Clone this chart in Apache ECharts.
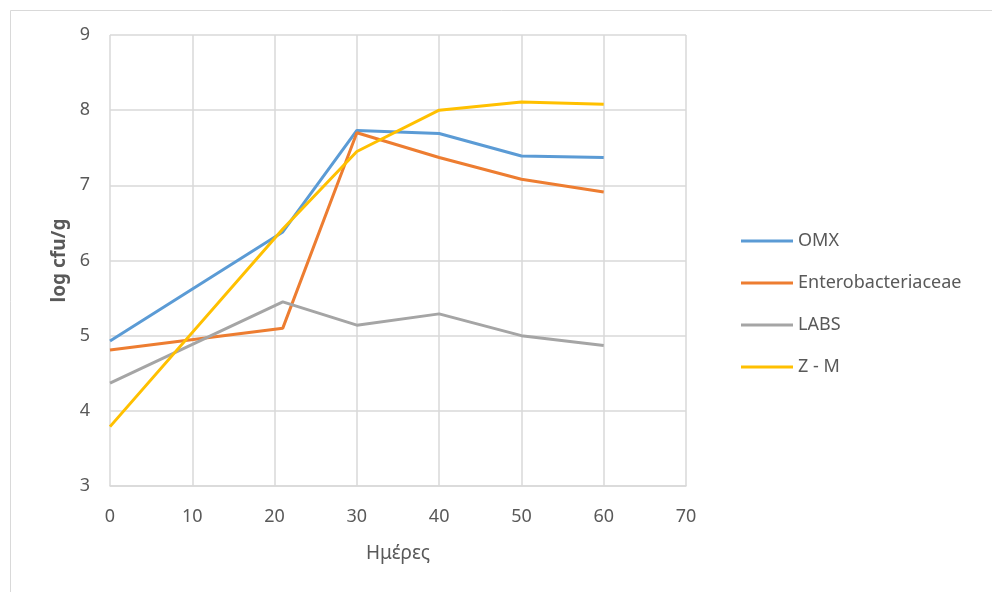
<!DOCTYPE html>
<html>
<head>
<meta charset="utf-8">
<script src="https://cdn.jsdelivr.net/npm/echarts@6/dist/echarts.min.js"></script>
<style>html,body{margin:0;padding:0;background:#fff;}#c{width:992px;height:592px;}</style>
</head>
<body>
<div id="c"></div>
<script>
const days = [0, 21, 30, 40, 50, 60];
const omx = [4.93, 6.38, 7.73, 7.69, 7.39, 7.37];
const entero = [4.81, 5.10, 7.70, 7.37, 7.08, 6.91];
const labs = [4.37, 5.45, 5.14, 5.29, 5.00, 4.87];
const zm = [3.79, 6.42, 7.45, 8.00, 8.11, 8.08];
const seriesNames = ['OMX', 'Enterobacteriaceae', 'LABS', 'Z - M'];
const seriesColors = ['#5B9BD5', '#ED7D31', '#A5A5A5', '#FFC000'];
const seriesValues = [omx, entero, labs, zm];

const chart = echarts.init(document.getElementById('c'));
const font = 'Noto Sans';
chart.setOption({
  animation: false,
  backgroundColor: '#fff',
  graphic: [{
    type: 'rect', left: 8, top: 8, shape: { width: 1000, height: 600 },
    style: { fill: 'none', stroke: '#d9d9d9', lineWidth: 1 }, silent: true
  }],
  grid: { left: 110, right: 306, top: 35, bottom: 106 },
  legend: {
    orient: 'vertical', left: 736, top: 227, itemWidth: 52, itemHeight: 3, itemGap: 24,
    icon: 'rect',
    textStyle: { fontFamily: font, fontSize: 18, color: '#595959', padding: [0, 0, 0, 0] },
    data: seriesNames
  },
  xAxis: {
    type: 'value', min: 0, max: 70, interval: 10,
    name: 'Ημέρες', nameLocation: 'middle', nameGap: 58,
    nameTextStyle: { fontFamily: font, fontSize: 19, color: '#595959' },
    axisLine: { show: true, lineStyle: { color: '#d9d9d9', width: 1.5 } },
    axisTick: { show: false },
    axisLabel: { fontFamily: font, fontSize: 18, color: '#595959', margin: 22 },
    splitLine: { show: true, lineStyle: { color: '#d9d9d9', width: 1.5 } }
  },
  yAxis: {
    type: 'value', min: 3, max: 9, interval: 1,
    name: 'log cfu/g', nameLocation: 'middle', nameGap: 40, nameRotate: 90,
    nameTextStyle: { fontFamily: font, fontSize: 19, color: '#595959', fontWeight: 'bold' },
    axisLine: { show: false },
    axisTick: { show: false },
    axisLabel: { fontFamily: font, fontSize: 18, color: '#595959', margin: 20 },
    splitLine: { show: true, lineStyle: { color: '#d9d9d9', width: 1.5 } }
  },
  series: seriesNames.map((n, i) => ({
    name: n, type: 'line', showSymbol: false, symbol: 'none',
    lineStyle: { width: 3, color: seriesColors[i] }, itemStyle: { color: seriesColors[i] },
    data: days.map((d, j) => [d, seriesValues[i][j]])
  }))
});
</script>
</body>
</html>
